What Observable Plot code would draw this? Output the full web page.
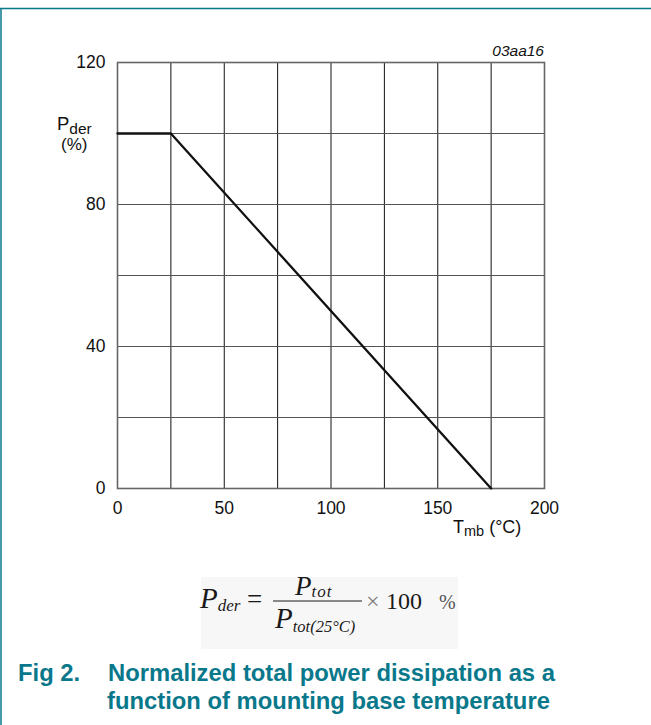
<!DOCTYPE html>
<html>
<head>
<meta charset="utf-8">
<script src="https://cdn.jsdelivr.net/npm/d3@7"></script>
<script src="https://cdn.jsdelivr.net/npm/@observablehq/plot@0.6"></script>
<style>
  html, body { margin: 0; padding: 0; background: #fff; }
  #chart svg { display: block; }
</style>
</head>
<body>
<div id="chart"></div>
<script>
// Data
const tempC = [0, 25, 175];          // T_mb (°C)
const pderPct = [100, 100, 0];       // P_der (%)
const xTickLabels = [0, 50, 100, 150, 200];
const yTickLabels = [0, 40, 80, 120];
const xGridLines = [25, 50, 75, 100, 125, 150, 175];
const yGridLines = [20, 40, 60, 80, 100];
const figCode = "03aa16";
const figNumber = "Fig 2.";
const titleLines = ["Normalized total power dissipation as a", "function of mounting base temperature"];

const data = tempC.map((t, i) => ({t, p: pderPct[i]}));
const teal = "#0a788b";
const sans = "'Liberation Sans', Arial, Helvetica, sans-serif";
const serif = "'Liberation Serif', 'Times New Roman', serif";

const svg = Plot.plot({
  width: 651,
  height: 725,
  marginLeft: 117,
  marginRight: 107,
  marginTop: 62,
  marginBottom: 237,
  style: {fontFamily: sans, fontSize: "17.5px", color: "#111", background: "#fff", overflow: "visible"},
  x: {domain: [0, 200]},
  y: {domain: [0, 120]},
  marks: [
    Plot.ruleX(xGridLines, {stroke: "#111", strokeWidth: 1}),
    Plot.ruleY(yGridLines, {stroke: "#555", strokeWidth: 1}),
    Plot.frame({stroke: "#666", strokeWidth: 1.6}),
    Plot.line(data, {x: "t", y: "p", stroke: "#111", strokeWidth: 2.3}),
    Plot.axisX({ticks: xTickLabels, tickSize: 0, tickPadding: 13, fontSize: 17.5, label: null, tickFormat: d => String(d)}),
    Plot.axisY({ticks: yTickLabels, tickSize: 0, tickPadding: 12, fontSize: 17.5, label: null, tickFormat: d => String(d)})
  ]
});

const s = d3.select(svg);
const layer = s.append("g").attr("text-anchor", "start").attr("font-family", sans);

// Outer frame lines (teal)
layer.append("line").attr("x1", 0).attr("x2", 651).attr("y1", 8.5).attr("y2", 8.5)
  .attr("stroke", teal).attr("stroke-width", 1.5);
layer.append("line").attr("x1", 1).attr("x2", 1).attr("y1", 8).attr("y2", 725)
  .attr("stroke", teal).attr("stroke-width", 1.5);

// Figure code
layer.append("text").attr("x", 544).attr("y", 56).attr("text-anchor", "end")
  .attr("font-style", "italic").attr("font-size", 15.5)
  .attr("fill", "#111").text(figCode);

// Y axis label: P_der (%)
const yl = layer.append("text").attr("x", 57).attr("y", 130)
  .attr("font-size", 18.5).attr("fill", "#111");
yl.append("tspan").text("P");
yl.append("tspan").attr("font-size", 15.5).attr("dy", 4).text("der");
layer.append("text").attr("x", 61).attr("y", 150)
  .attr("font-size", 17).attr("fill", "#111").text("(%)");

// X axis label: T_mb (°C)
const xl = layer.append("text").attr("x", 453).attr("y", 533)
  .attr("font-size", 18).attr("fill", "#111");
xl.append("tspan").text("T");
xl.append("tspan").attr("font-size", 14.5).attr("dy", 3).text("mb");
xl.append("tspan").attr("dy", -3).text(" (\u00B0C)");

// Formula
layer.append("rect").attr("x", 201).attr("y", 577).attr("width", 257).attr("height", 72)
  .attr("fill", "#f7f7f7");
const f = layer.append("g").attr("font-family", serif).attr("fill", "#1a1a1a");
const f1 = f.append("text").attr("x", 200).attr("y", 608).attr("font-style", "italic").attr("font-size", 29);
f1.append("tspan").text("P");
f1.append("tspan").attr("font-size", 17).attr("dy", 3).text("der");
f.append("text").attr("x", 247).attr("y", 608).attr("font-size", 27).text("=");
f.append("line").attr("x1", 273).attr("x2", 362).attr("y1", 601).attr("y2", 601)
  .attr("stroke", "#1a1a1a").attr("stroke-width", 1.2);
const fn = f.append("text").attr("x", 295).attr("y", 595).attr("font-style", "italic").attr("font-size", 27);
fn.append("tspan").text("P");
fn.append("tspan").attr("font-size", 17).attr("dy", 2).attr("letter-spacing", 1).text("tot");
const fd = f.append("text").attr("x", 275).attr("y", 628).attr("font-style", "italic").attr("font-size", 29);
fd.append("tspan").text("P");
fd.append("tspan").attr("font-size", 16.5).attr("dy", 4).text("tot(25\u00B0C)");
f.append("text").attr("x", 366).attr("y", 609).attr("font-size", 24).attr("fill", "#777").text("\u00D7");
f.append("text").attr("x", 386).attr("y", 609).attr("font-size", 24).text("100");
f.append("text").attr("x", 439).attr("y", 609).attr("font-size", 20).attr("fill", "#555").text("%");

// Caption / title
const t = layer.append("g").attr("font-weight", "bold")
  .attr("font-size", 23.8).attr("fill", teal);
t.append("text").attr("x", 18).attr("y", 681).text(figNumber);
t.append("text").attr("x", 108).attr("y", 681).text(titleLines[0]);
t.append("text").attr("x", 107).attr("y", 709).text(titleLines[1]);

document.getElementById("chart").appendChild(svg);
</script>
</body>
</html>
